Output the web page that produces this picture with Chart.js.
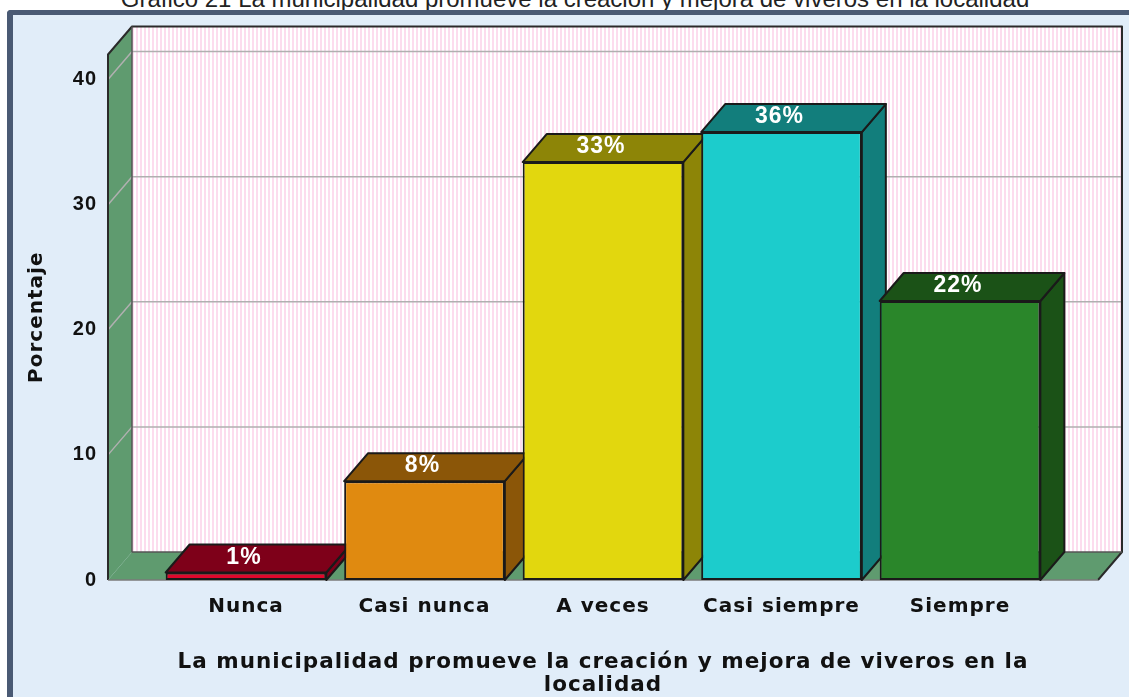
<!DOCTYPE html>
<html lang="es">
<head>
<meta charset="UTF-8">
<title>Gráfico 21</title>
<script src="https://cdn.jsdelivr.net/npm/chart.js"></script>
<style>
    body {
        margin: 0;
        padding: 0;
        width: 1129px;
        height: 697px;
        overflow: hidden;
        background: #ffffff;
        position: relative;
    }
    #titulo {
        position: absolute;
        top: -13px;
        left: 0;
        width: 1150px;
        text-align: center;
        font-family: 'Liberation Sans', Arial, sans-serif;
        font-size: 24px;
        line-height: 24px;
        color: #222;
        white-space: nowrap;
    }
    .marco {
        position: absolute;
        left: 7px;
        top: 10px;
        width: 1140px;
        height: 700px;
        background: #e1edf9;
        border-left: 6px solid #4a5a74;
        border-top: 5px solid #4a5a74;
        border-top-left-radius: 4px;
    }
    canvas {
        position: absolute;
        left: 0;
        top: 0;
    }
</style>
</head>
<body>
<div id="titulo">Gráfico 21 La municipalidad promueve la creación y mejora de viveros en la localidad</div>
<div class="marco"></div>
<canvas id="grafico" width="1129" height="697"></canvas>

<script>
// datos
const categorias = ["Nunca", "Casi nunca", "A veces", "Casi siempre", "Siempre"];
const porcentajes = [0.6, 7.9, 33.4, 35.8, 22.3];
const etiquetas = ["1%", "8%", "33%", "36%", "22%"];
const ticksY = [0, 10, 20, 30, 40];

// estilos
const colorFrente = ["#e0072c", "#e08a10", "#e2d70e", "#1ccccc", "#2a862a"];
const colorOscuro = ["#7e0019", "#8b5608", "#8d8507", "#127e7c", "#1b5217"];
const verdePared = "#5f9b6f";
const DX = 24, DY = 28;

function patronRosa(ctx) {
    const c = document.createElement("canvas");
    c.width = 4; c.height = 4;
    const g = c.getContext("2d");
    g.fillStyle = "#ffffff";
    g.fillRect(0, 0, 4, 4);
    g.fillStyle = "#fcdcee";
    g.fillRect(0, 0, 2, 4);
    return ctx.createPattern(c, "repeat");
}

function poligono(ctx, pts, relleno, trazo, ancho) {
    ctx.beginPath();
    ctx.moveTo(pts[0][0], pts[0][1]);
    for (let i = 1; i < pts.length; i++) ctx.lineTo(pts[i][0], pts[i][1]);
    ctx.closePath();
    if (relleno) { ctx.fillStyle = relleno; ctx.fill(); }
    if (trazo) { ctx.strokeStyle = trazo; ctx.lineWidth = ancho || 2; ctx.stroke(); }
}

const fondo3d = {
    id: "fondo3d",
    beforeDraw(chart) {
        // el texto de SPSS va algo espaciado
        chart.ctx.letterSpacing = "1px";
    },
    afterDraw(chart) {
        chart.ctx.letterSpacing = "0px";
    },
    beforeDatasetsDraw(chart) {
        const ctx = chart.ctx;
        const {left, right, top, bottom} = chart.chartArea;
        const y = chart.scales.y;
        ctx.save();
        ctx.lineJoin = "round";

        // pared del fondo
        poligono(ctx, [[left + DX, top - DY], [right + DX, top - DY], [right + DX, bottom - DY], [left + DX, bottom - DY]], patronRosa(ctx));
        // pared izquierda
        poligono(ctx, [[left, bottom], [left, top], [left + DX, top - DY], [left + DX, bottom - DY]], verdePared);
        // piso
        poligono(ctx, [[left, bottom], [left + DX, bottom - DY], [right + DX, bottom - DY], [right, bottom]], verdePared);

        // lineas de cuadricula
        ctx.strokeStyle = "#b0b0b0";
        ctx.lineWidth = 1.5;
        ticksY.forEach(v => {
            if (v === 0) return;
            const py = y.getPixelForValue(v);
            ctx.beginPath();
            ctx.moveTo(left, py);
            ctx.lineTo(left + DX, py - DY);
            ctx.lineTo(right + DX, py - DY);
            ctx.stroke();
        });

        // bordes
        ctx.strokeStyle = "#2a2a2a";
        ctx.lineWidth = 2;
        ctx.beginPath();
        ctx.moveTo(left, bottom);
        ctx.lineTo(left, top);
        ctx.lineTo(left + DX, top - DY);
        ctx.lineTo(right + DX, top - DY);
        ctx.lineTo(right + DX, bottom - DY);
        ctx.lineTo(right, bottom);
        ctx.stroke();
        ctx.beginPath();
        ctx.moveTo(left + DX, top - DY);
        ctx.lineTo(left + DX, bottom - DY);
        ctx.lineTo(right + DX, bottom - DY);
        ctx.strokeStyle = "#555";
        ctx.lineWidth = 1.5;
        ctx.stroke();
        ctx.beginPath();
        ctx.moveTo(left, bottom);
        ctx.lineTo(right, bottom);
        ctx.strokeStyle = "#7a7a7a";
        ctx.stroke();

        // caras superior y lateral de las barras
        const meta = chart.getDatasetMeta(0);
        meta.data.forEach((b, i) => {
            const L = b.x - b.width / 2, R = b.x + b.width / 2;
            poligono(ctx, [[R, b.y], [R + DX, b.y - DY], [R + DX, b.base - DY], [R, b.base]], colorOscuro[i], "#1a1a1a", 2);
            poligono(ctx, [[L, b.y], [L + DX, b.y - DY], [R + DX, b.y - DY], [R, b.y]], colorOscuro[i], "#1a1a1a", 2);
        });
        ctx.restore();
    },
    afterDatasetsDraw(chart) {
        const ctx = chart.ctx;
        const meta = chart.getDatasetMeta(0);
        ctx.save();
        ctx.fillStyle = "#ffffff";
        ctx.font = "bold 23px 'Liberation Sans', Arial, sans-serif";
        ctx.textAlign = "center";
        ctx.textBaseline = "middle";
        meta.data.forEach((b, i) => {
            ctx.fillText(etiquetas[i], b.x - 2, b.y - 15);
        });
        ctx.restore();
    }
};

new Chart(document.getElementById("grafico"), {
    type: "bar",
    data: {
        datasets: [{
            data: porcentajes.map((v, i) => ({x: i, y: v})),
            backgroundColor: colorFrente,
            borderColor: "#1a1a1a",
            borderWidth: 2,
            borderSkipped: false,
            barPercentage: 0.9,
            categoryPercentage: 1
        }]
    },
    options: {
        responsive: false,
        animation: false,
        layout: { padding: { left: 24, right: 31, top: 54.5, bottom: 0.5 } },
        plugins: { legend: { display: false }, tooltip: { enabled: false } },
        scales: {
            x: {
                type: "linear",
                bounds: "data",
                offset: false,
                min: -0.773,
                max: 4.773,
                grid: { display: false, drawTicks: false },
                border: { display: false },
                afterBuildTicks: s => { s.ticks = categorias.map((c, i) => ({ value: i })); },
                ticks: {
                    autoSkip: false,
                    maxRotation: 0,
                    padding: 15,
                    color: "#111",
                    font: { family: "'DejaVu Sans', sans-serif", size: 20, weight: "bold" },
                    callback: v => categorias[v] !== undefined ? categorias[v] : ""
                },
                title: {
                    display: true,
                    text: ["La municipalidad promueve la creación y mejora de viveros en la", "localidad"],
                    color: "#111",
                    padding: 0,
                    font: { family: "'DejaVu Sans', sans-serif", size: 21.5, weight: "bold", lineHeight: "23px" }
                },
                afterFit: s => { s.height = 697 - 0.5 - 580; }
            },
            y: {
                min: 0,
                max: 42,
                grid: { display: false, drawTicks: false },
                border: { display: false },
                ticks: {
                    stepSize: 10,
                    includeBounds: false,
                    padding: 11,
                    color: "#111",
                    font: { family: "'Liberation Sans', Arial, sans-serif", size: 20, weight: "bold" }
                },
                title: {
                    display: true,
                    text: "Porcentaje",
                    color: "#111",
                    padding: 0,
                    font: { family: "'DejaVu Sans', sans-serif", size: 20, weight: "bold", lineHeight: "25px" }
                },
                afterFit: s => { s.width = 108 - 24; }
            }
        }
    },
    plugins: [fondo3d]
});
</script>
</body>
</html>
